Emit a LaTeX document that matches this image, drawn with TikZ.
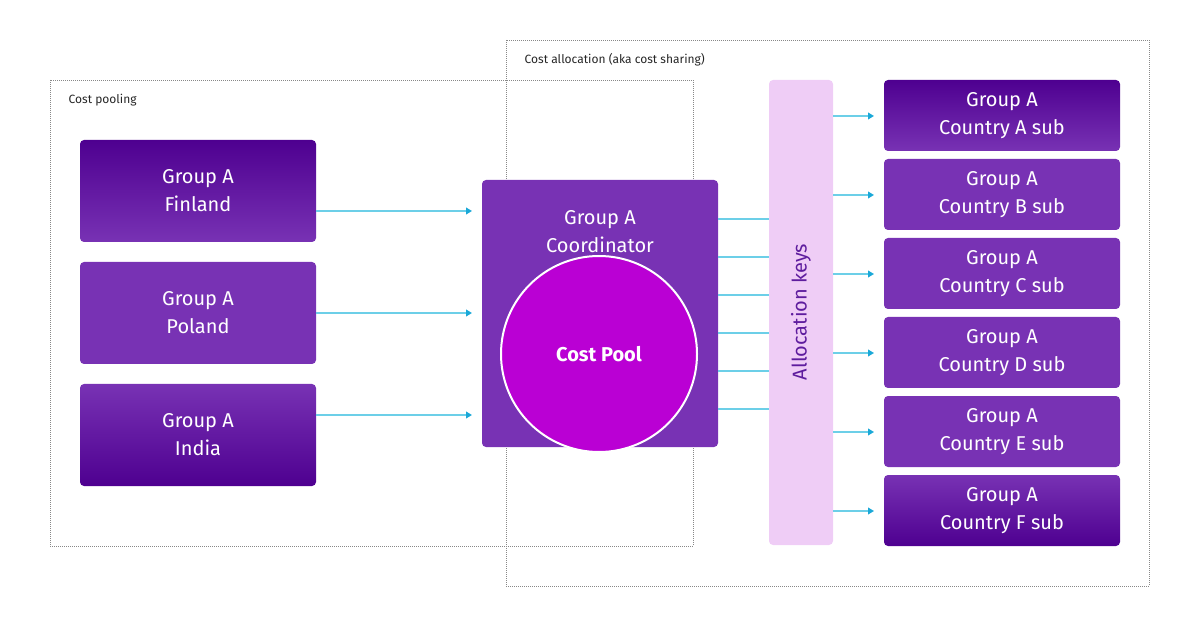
\documentclass[tikz,border=0pt]{standalone}
\usepackage{fontspec}
\setmainfont{Fira Sans}
\usetikzlibrary{arrows.meta}
\definecolor{dk}{HTML}{4E0090}
\definecolor{md}{HTML}{7832B4}
\definecolor{pool}{HTML}{BA00D4}
\definecolor{keys}{HTML}{EFCDF6}
\definecolor{keytxt}{HTML}{5E1C9E}
\definecolor{ln}{HTML}{6CCFE8}
\definecolor{hd}{HTML}{1AA8D8}
\definecolor{frm}{HTML}{888888}
\begin{document}
\begin{tikzpicture}[x=0.75pt,y=-0.75pt,
 box/.style={rounded corners=3pt,text=white,align=center,font=\fontsize{15}{21}\selectfont},
 flat/.style={box,fill=md},
 gdown/.style={box,top color=dk,bottom color=md},
 gup/.style={box,top color=md,bottom color=dk},
 frame/.style={draw=frm,densely dotted,line width=0.5pt},
 arr/.style={draw=ln,line width=1.2pt,-{Triangle[length=4.5pt,width=5pt,color=hd]}},
 lnk/.style={draw=ln,line width=1.2pt},
 lbl/.style={anchor=west,font=\fontsize{9}{11}\selectfont,text=black!85}]
\useasboundingbox (0,0) rectangle (1200,627);
\draw[frame] (50,80) rectangle (693,546);
\draw[frame] (506,40) rectangle (1149,586);
\node[lbl] (lp) at (64,100) {Cost pooling};
\node[lbl] (la) at (520,60) {Cost allocation (aka cost sharing)};
\path[gdown] (80,140) rectangle (316,242);
\node[box] (fi) at (198,191) {Group A\\Finland};
\path[flat] (80,262) rectangle (316,364);
\node[box] (po) at (198,313) {Group A\\Poland};
\path[gup] (80,384) rectangle (316,486);
\node[box] (in) at (198,435) {Group A\\India};
\path[flat] (482,180) rectangle (718,447);
\node[box] (co) at (600,232) {Group A\\Coordinator};
\node[circle,fill=pool,draw=white,line width=1.5pt,minimum size=147,text=white,font=\fontsize{15}{18}\selectfont\bfseries] (cp) at (599,354) {Cost Pool};
\path[fill=keys,rounded corners=3pt] (769,80) rectangle (833,545);
\node[rotate=90,text=keytxt,font=\fontsize{15}{18}\selectfont] (ak) at (801,312) {Allocation keys};
\foreach \y/\n in {211/fi,313/po,415/in}{
  \coordinate (s\n) at (316,\y); \coordinate (e\n) at (472,\y);
  \draw[arr] (s\n) -- (e\n);}
\foreach \y [count=\i] in {219,257,295,333,371,409}{
  \coordinate (a\i) at (718,\y); \coordinate (b\i) at (769,\y);
  \draw[lnk] (a\i) -- (b\i);}
\foreach \t/\l [count=\i] in {80/A,159/B,238/C,317/D,396/E,475/F}{
  \ifnum\i=1 \path[gdown] (884,\t) rectangle (1120,\t+71);
  \else\ifnum\i=6 \path[gup] (884,\t) rectangle (1120,\t+71);
  \else \path[flat] (884,\t) rectangle (1120,\t+71); \fi\fi
  \node[box] (r\i) at (1002,\t+36) {Group A\\Country \l\ sub};
  \coordinate (k\i) at (833,\t+36); \coordinate (h\i) at (874,\t+36);
  \draw[arr] (k\i) -- (h\i);}
\end{tikzpicture}
\end{document}
